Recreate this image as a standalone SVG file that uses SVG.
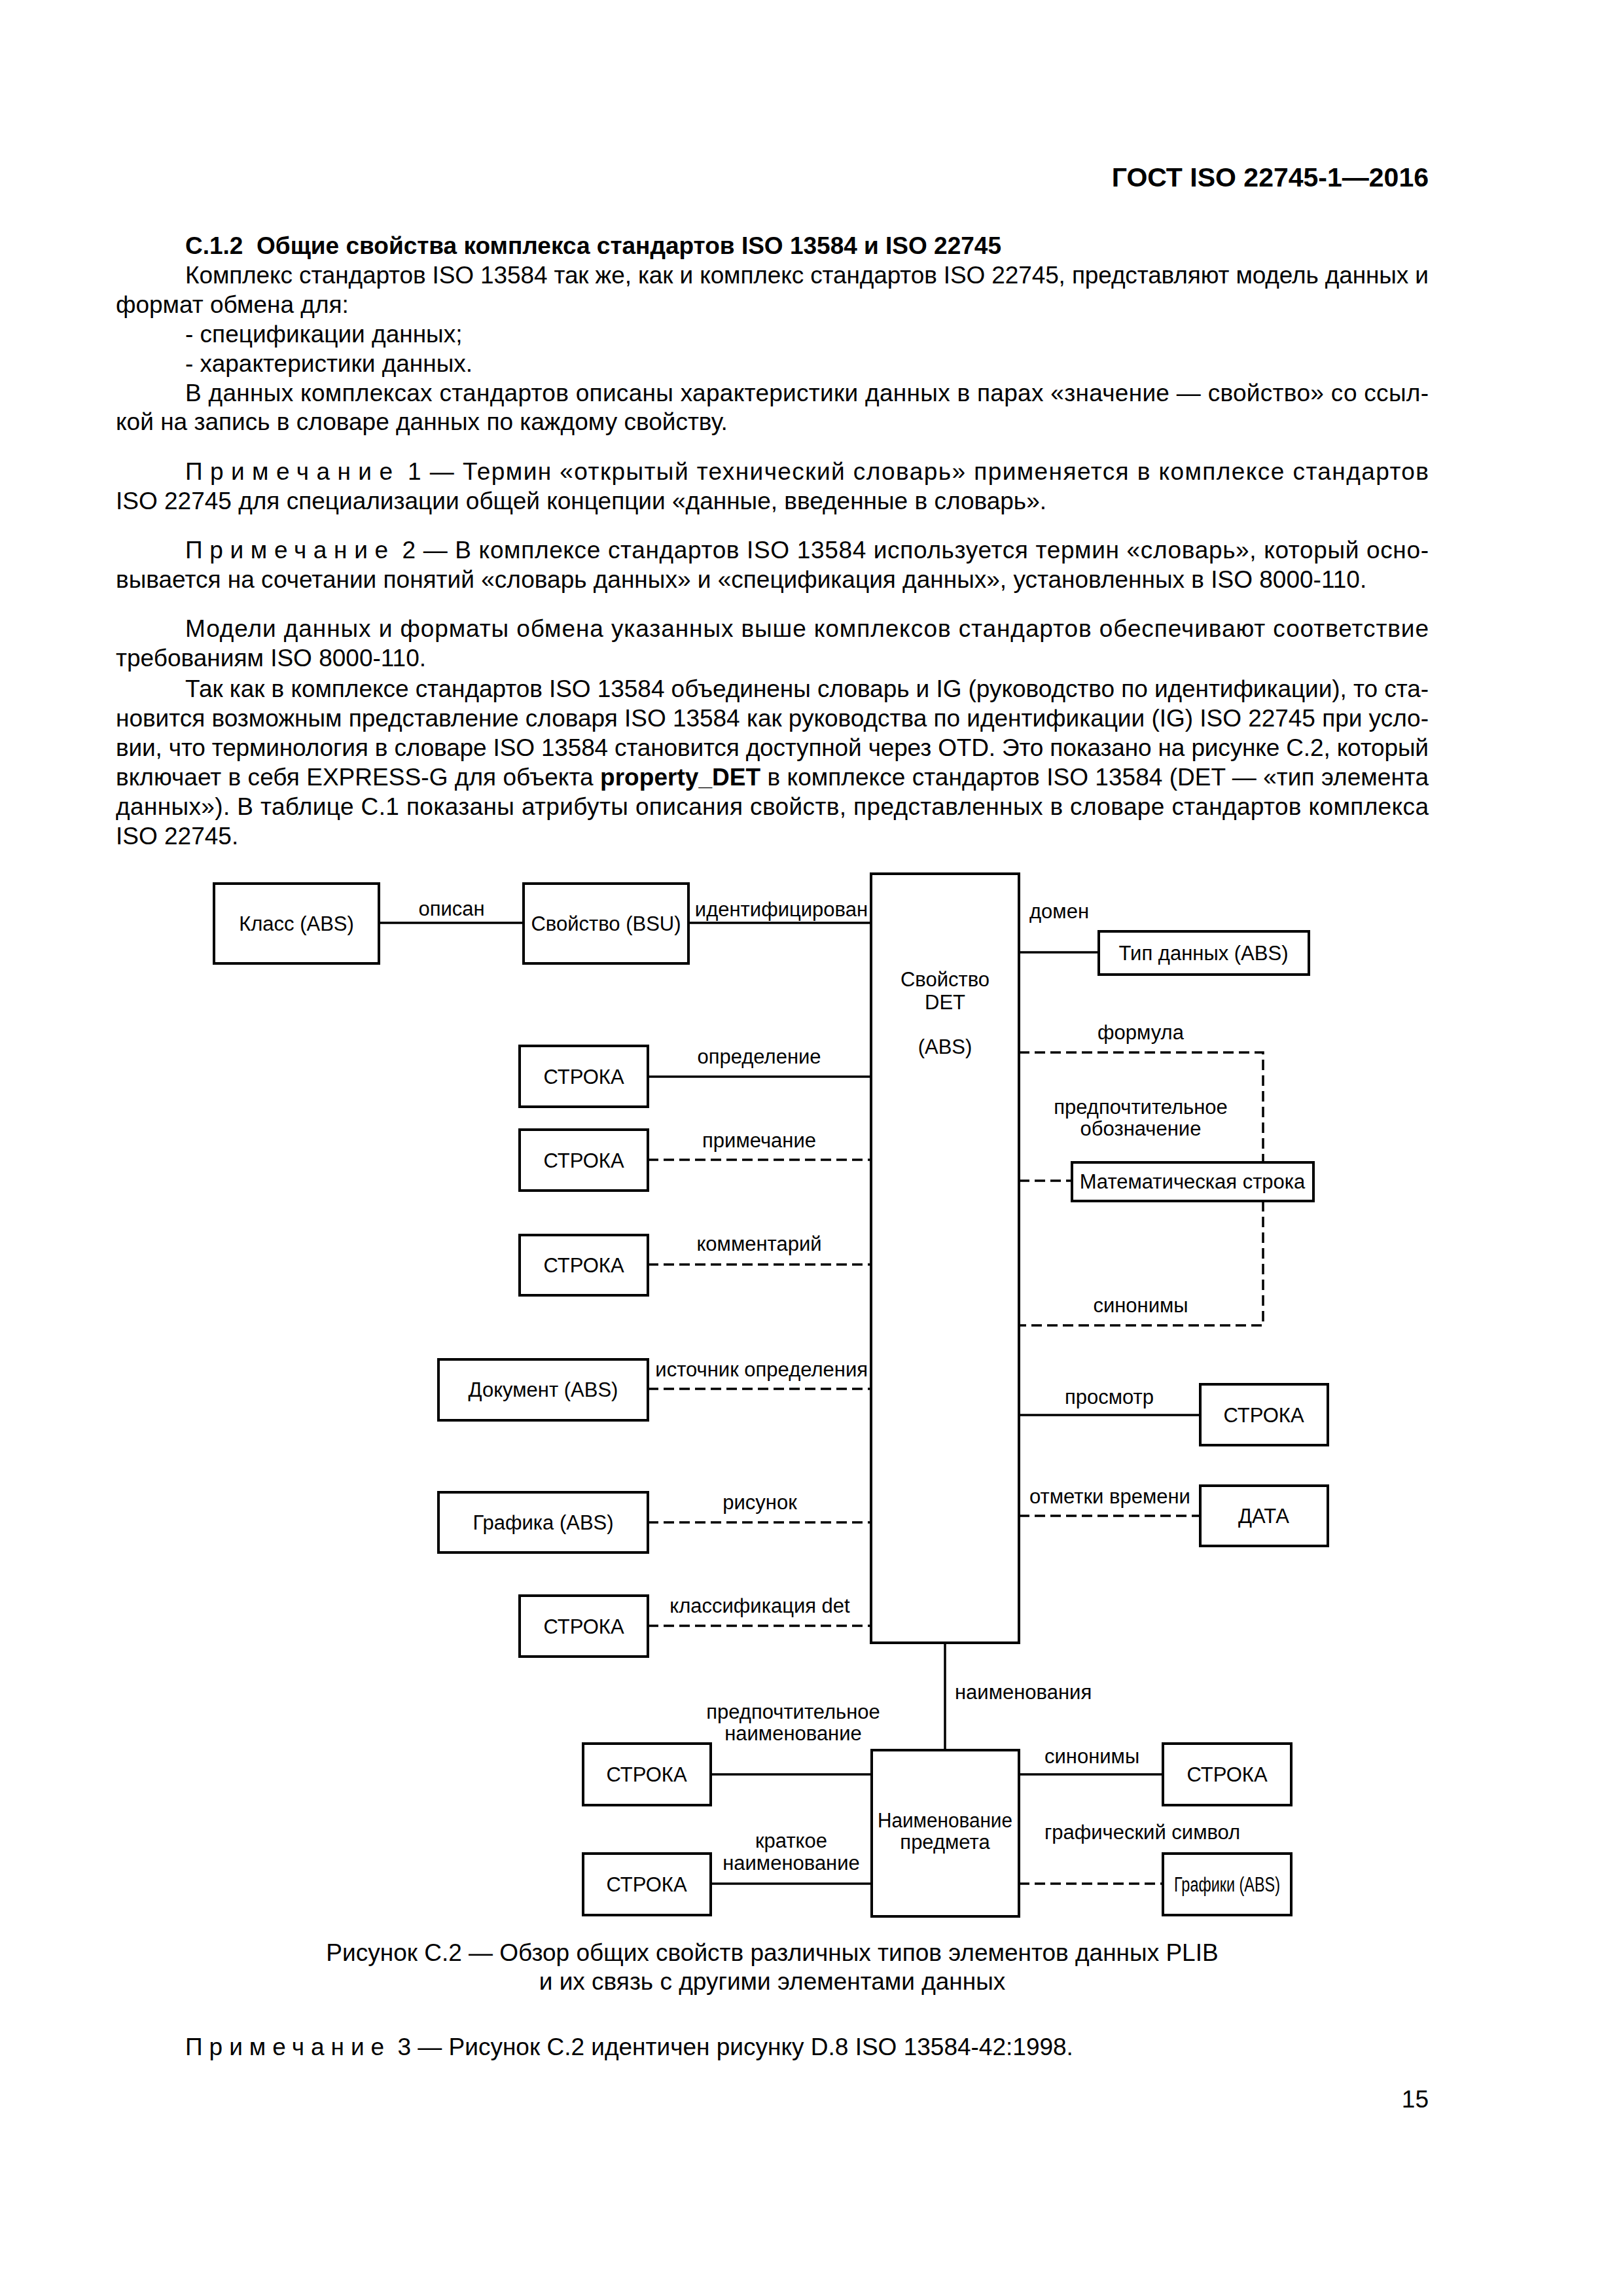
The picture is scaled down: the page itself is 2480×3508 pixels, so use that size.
<svg xmlns="http://www.w3.org/2000/svg" width="2480" height="3508" viewBox="0 0 2480 3508">
<style>
text{font-family:"Liberation Sans",Arial,"DejaVu Sans",sans-serif;fill:#000}
.b{font-size:37px}
.h{font-size:41px;font-weight:bold}
.hb{font-weight:bold}
.d{font-size:31px}
.m{text-anchor:middle}
.e{text-anchor:end}
.box{fill:#fff;stroke:#000;stroke-width:4}
.ln{stroke:#000;stroke-width:3.5;fill:none}
.ds{stroke-dasharray:16 8}
.sp{letter-spacing:10px}
</style>
<rect width="2480" height="3508" fill="#fff"/>
<g id="page-text">
<text class="h e" x="2183" y="285">ГОСТ ISO 22745-1—2016</text>
<text class="b hb" x="283" y="388" xml:space="preserve">С.1.2  Общие свойства комплекса стандартов ISO 13584 и ISO 22745</text>
<text class="b" x="283" y="433" textLength="1900" lengthAdjust="spacing">Комплекс стандартов ISO 13584 так же, как и комплекс стандартов ISO 22745, представляют модель данных и</text>
<text class="b" x="177" y="478">формат обмена для:</text>
<text class="b" x="283" y="523">- спецификации данных;</text>
<text class="b" x="283" y="568">- характеристики данных.</text>
<text class="b" x="283" y="613" textLength="1900" lengthAdjust="spacing">В данных комплексах стандартов описаны характеристики данных в парах «значение — свойство» со ссыл-</text>
<text class="b" x="177" y="657">кой на запись в словаре данных по каждому свойству.</text>
<text class="b" x="283" y="733" textLength="1900" lengthAdjust="spacing"><tspan class="sp">Примечание</tspan> 1 — Термин «открытый технический словарь» применяется в комплексе стандартов</text>
<text class="b" x="177" y="778">ISO 22745 для специализации общей концепции «данные, введенные в словарь».</text>
<text class="b" x="283" y="853" textLength="1900" lengthAdjust="spacing"><tspan class="sp">Примечание</tspan> 2 — В комплексе стандартов ISO 13584 используется термин «словарь», который осно-</text>
<text class="b" x="177" y="898">вывается на сочетании понятий «словарь данных» и «спецификация данных», установленных в ISO 8000-110.</text>
<text class="b" x="283" y="973" textLength="1900" lengthAdjust="spacing">Модели данных и форматы обмена указанных выше комплексов стандартов обеспечивают соответствие</text>
<text class="b" x="177" y="1018">требованиям ISO 8000-110.</text>
<text class="b" x="283" y="1065" textLength="1900" lengthAdjust="spacing">Так как в комплексе стандартов ISO 13584 объединены словарь и IG (руководство по идентификации), то ста-</text>
<text class="b" x="177" y="1110" textLength="2006" lengthAdjust="spacing">новится возможным представление словаря ISO 13584 как руководства по идентификации (IG) ISO 22745 при усло-</text>
<text class="b" x="177" y="1155" textLength="2006" lengthAdjust="spacing">вии, что терминология в словаре ISO 13584 становится доступной через OTD. Это показано на рисунке С.2, который</text>
<text class="b" x="177" y="1200" textLength="2006" lengthAdjust="spacing">включает в себя EXPRESS-G для объекта <tspan class="hb">property_DET</tspan> в комплексе стандартов ISO 13584 (DET — «тип элемента</text>
<text class="b" x="177" y="1245" textLength="2006" lengthAdjust="spacing">данных»). В таблице С.1 показаны атрибуты описания свойств, представленных в словаре стандартов комплекса</text>
<text class="b" x="177" y="1290">ISO 22745.</text>
<text class="b m" x="1180" y="2996">Рисунок С.2 — Обзор общих свойств различных типов элементов данных PLIB</text>
<text class="b m" x="1180" y="3040">и их связь с другими элементами данных</text>
<text class="b" x="283" y="3140"><tspan class="sp">Примечание</tspan> 3 — Рисунок С.2 идентичен рисунку D.8 ISO 13584-42:1998.</text>
<text class="b e" x="2183" y="3220">15</text>
</g>
<g id="connectors">
<line class="ln" x1="579" y1="1410" x2="800" y2="1410"/>
<line class="ln" x1="1052" y1="1410" x2="1331" y2="1410"/>
<line class="ln" x1="1557" y1="1455" x2="1679" y2="1455"/>
<line class="ln" x1="990" y1="1645" x2="1331" y2="1645"/>
<line class="ln ds" x1="990" y1="1772" x2="1331" y2="1772"/>
<line class="ln ds" x1="990" y1="1932" x2="1331" y2="1932"/>
<path class="ln ds" d="M1557 1608 H1930 V1776"/>
<line class="ln ds" x1="1557" y1="1804" x2="1638" y2="1804"/>
<path class="ln ds" d="M1930 1835 V2025 H1557"/>
<line class="ln ds" x1="990" y1="2122" x2="1331" y2="2122"/>
<line class="ln" x1="1557" y1="2162" x2="1834" y2="2162"/>
<line class="ln ds" x1="990" y1="2326" x2="1331" y2="2326"/>
<line class="ln ds" x1="1557" y1="2316" x2="1834" y2="2316"/>
<line class="ln ds" x1="990" y1="2484" x2="1331" y2="2484"/>
<line class="ln" x1="1444" y1="2510" x2="1444" y2="2674"/>
<line class="ln" x1="1086" y1="2711" x2="1332" y2="2711"/>
<line class="ln" x1="1557" y1="2711" x2="1777" y2="2711"/>
<line class="ln" x1="1086" y1="2878" x2="1332" y2="2878"/>
<line class="ln ds" x1="1557" y1="2878" x2="1777" y2="2878"/>
<text class="d m" x="690" y="1399">описан</text>
<text class="d e" x="1326" y="1400">идентифицирован</text>
<text class="d" x="1573" y="1403">домен</text>
<text class="d m" x="1160" y="1625">определение</text>
<text class="d m" x="1743" y="1588">формула</text>
<text class="d m" x="1743" y="1702">предпочтительное</text>
<text class="d m" x="1743" y="1735">обозначение</text>
<text class="d m" x="1160" y="1753">примечание</text>
<text class="d m" x="1160" y="1911">комментарий</text>
<text class="d m" x="1743" y="2005">синонимы</text>
<text class="d e" x="1326" y="2103">источник определения</text>
<text class="d m" x="1695" y="2145">просмотр</text>
<text class="d m" x="1161" y="2306">рисунок</text>
<text class="d" x="1573" y="2297">отметки времени</text>
<text class="d m" x="1161" y="2464">классификация det</text>
<text class="d" x="1459" y="2596">наименования</text>
<text class="d m" x="1212" y="2626">предпочтительное</text>
<text class="d m" x="1212" y="2659">наименование</text>
<text class="d" x="1596" y="2694">синонимы</text>
<text class="d m" x="1209" y="2823">краткое</text>
<text class="d m" x="1209" y="2857">наименование</text>
<text class="d" x="1596" y="2810">графический символ</text>
</g>
<g id="n-class"><rect class="box" x="327" y="1350" width="252" height="122"/><text class="d m" x="453" y="1422">Класс (ABS)</text></g>
<g id="n-prop-bsu"><rect class="box" x="800" y="1350" width="252" height="122"/><text class="d m" x="926" y="1422">Свойство (BSU)</text></g>
<g id="n-prop-det"><rect class="box" x="1331" y="1335" width="226" height="1175"/><text class="d m" x="1444" y="1507">Свойство</text><text class="d m" x="1444" y="1542">DET</text><text class="d m" x="1444" y="1610">(ABS)</text></g>
<g id="n-datatype"><rect class="box" x="1679" y="1423" width="321" height="66"/><text class="d m" x="1839" y="1467">Тип данных (ABS)</text></g>
<g id="n-str-def"><rect class="box" x="794" y="1598" width="196" height="93"/><text class="d m" x="892" y="1656">СТРОКА</text></g>
<g id="n-str-note"><rect class="box" x="794" y="1726" width="196" height="93"/><text class="d m" x="892" y="1784">СТРОКА</text></g>
<g id="n-mathstr"><rect class="box" x="1638" y="1776" width="369" height="59"/><text class="d m" x="1822" y="1816">Математическая строка</text></g>
<g id="n-str-comment"><rect class="box" x="794" y="1887" width="196" height="92"/><text class="d m" x="892" y="1944">СТРОКА</text></g>
<g id="n-document"><rect class="box" x="670" y="2077" width="320" height="93"/><text class="d m" x="830" y="2134">Документ (ABS)</text></g>
<g id="n-str-view"><rect class="box" x="1834" y="2115" width="195" height="93"/><text class="d m" x="1931" y="2173">СТРОКА</text></g>
<g id="n-graphic"><rect class="box" x="670" y="2280" width="320" height="92"/><text class="d m" x="830" y="2337">Графика (ABS)</text></g>
<g id="n-date"><rect class="box" x="1834" y="2270" width="195" height="92"/><text class="d m" x="1931" y="2327">ДАТА</text></g>
<g id="n-str-class"><rect class="box" x="794" y="2438" width="196" height="93"/><text class="d m" x="892" y="2496">СТРОКА</text></g>
<g id="n-item-name"><rect class="box" x="1332" y="2674" width="225" height="254"/><text class="d m" x="1444" y="2792" textLength="206" lengthAdjust="spacingAndGlyphs">Наименование</text><text class="d m" x="1444" y="2825">предмета</text></g>
<g id="n-str-pref"><rect class="box" x="891" y="2664" width="195" height="94"/><text class="d m" x="988" y="2722">СТРОКА</text></g>
<g id="n-str-syn"><rect class="box" x="1777" y="2664" width="196" height="94"/><text class="d m" x="1875" y="2722">СТРОКА</text></g>
<g id="n-str-short"><rect class="box" x="891" y="2832" width="195" height="94"/><text class="d m" x="988" y="2890">СТРОКА</text></g>
<g id="n-graphics"><rect class="box" x="1777" y="2832" width="196" height="94"/><text class="d m" x="1875" y="2890" textLength="162" lengthAdjust="spacingAndGlyphs">Графики (ABS)</text></g>
</svg>
